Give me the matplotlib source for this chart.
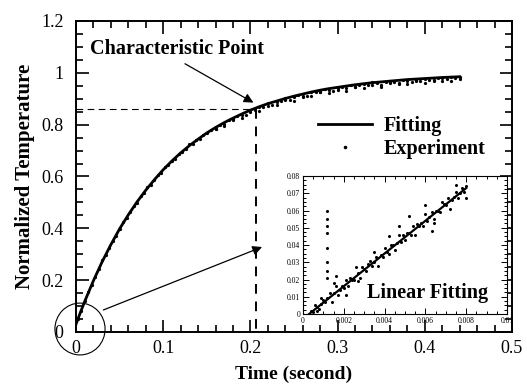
import matplotlib.pyplot as plt
from matplotlib.patches import Ellipse
from matplotlib.ticker import MultipleLocator, FormatStrFormatter

plt.rcParams['font.family'] = ['Liberation Serif', 'DejaVu Serif']

# fitted curve
fit_t = [0.0, 0.002, 0.005, 0.01, 0.02, 0.03, 0.04, 0.05, 0.06, 0.07, 0.08, 0.09, 0.10,
         0.11, 0.12, 0.13, 0.14, 0.15, 0.16, 0.17, 0.18, 0.19, 0.20, 0.21, 0.22, 0.23,
         0.24, 0.25, 0.26, 0.27, 0.28, 0.29, 0.30, 0.32, 0.34, 0.36, 0.38, 0.40, 0.42, 0.44]
fit_y = [0.03, 0.048, 0.075, 0.118, 0.198, 0.271, 0.337, 0.398, 0.452, 0.502, 0.547, 0.588, 0.626,
         0.660, 0.691, 0.719, 0.744, 0.768, 0.789, 0.808, 0.825, 0.841, 0.856, 0.869, 0.881, 0.891,
         0.901, 0.910, 0.918, 0.926, 0.933, 0.939, 0.944, 0.954, 0.962, 0.968, 0.974, 0.978, 0.982, 0.985]

# experiment points
exp_t1 = [0.002, 0.006, 0.010, 0.014, 0.018, 0.022, 0.026, 0.030, 0.034, 0.038, 0.042, 0.046,
          0.050, 0.054, 0.058, 0.062, 0.066, 0.070, 0.074, 0.078, 0.082, 0.086, 0.090, 0.094,
          0.098, 0.102, 0.106, 0.110, 0.114, 0.118, 0.122, 0.126, 0.130, 0.134, 0.138, 0.142, 0.146]
exp_y1 = [0.051, 0.082, 0.118, 0.155, 0.180, 0.214, 0.242, 0.276, 0.296, 0.324, 0.352, 0.370,
          0.399, 0.423, 0.440, 0.463, 0.487, 0.499, 0.523, 0.538, 0.559, 0.567, 0.588, 0.606,
          0.615, 0.637, 0.646, 0.661, 0.668, 0.687, 0.696, 0.705, 0.724, 0.727, 0.740, 0.746, 0.760]
exp_t2 = [0.150, 0.155, 0.160, 0.165, 0.170, 0.175, 0.180, 0.185, 0.190, 0.195, 0.200, 0.205,
          0.210, 0.215, 0.220, 0.225, 0.230, 0.235, 0.240, 0.245, 0.250, 0.255, 0.260, 0.265,
          0.270, 0.275, 0.280, 0.285, 0.290, 0.295, 0.300, 0.305, 0.310, 0.315, 0.320, 0.325,
          0.330, 0.335, 0.340, 0.345, 0.350, 0.355, 0.360, 0.365, 0.370, 0.375, 0.380, 0.385,
          0.390, 0.395, 0.400, 0.405, 0.410, 0.415, 0.420, 0.425, 0.430, 0.435, 0.440]
exp_y2 = [0.766, 0.781, 0.783, 0.799, 0.804, 0.819, 0.817, 0.833, 0.838, 0.839, 0.858, 0.857,
          0.868, 0.868, 0.884, 0.874, 0.889, 0.892, 0.902, 0.897, 0.907, 0.916, 0.912, 0.911,
          0.926, 0.926, 0.925, 0.938, 0.934, 0.929, 0.943, 0.944, 0.942, 0.953, 0.944, 0.952,
          0.956, 0.952, 0.963, 0.959, 0.953, 0.964, 0.968, 0.964, 0.962, 0.974, 0.970, 0.964,
          0.974, 0.970, 0.978, 0.974, 0.970, 0.980, 0.979, 0.975, 0.985, 0.979, 0.983]
exp_t3 = [0.16, 0.17, 0.18, 0.19, 0.20, 0.21, 0.22, 0.23, 0.24, 0.25, 0.26, 0.27, 0.28, 0.29,
          0.30, 0.31, 0.32, 0.33, 0.34, 0.35, 0.36, 0.37, 0.38, 0.39, 0.40, 0.41, 0.42, 0.43, 0.44]
exp_y3 = [0.782, 0.796, 0.821, 0.827, 0.850, 0.854, 0.872, 0.875, 0.894, 0.892, 0.908, 0.909,
          0.927, 0.923, 0.933, 0.930, 0.946, 0.943, 0.952, 0.947, 0.961, 0.957, 0.958, 0.967,
          0.961, 0.972, 0.969, 0.969, 0.975]

char_t = 0.206
char_y = 0.862

# inset: early part of the curve
lin_fit_t = [0.0003, 0.008]
lin_fit_y = [0.0, 0.073]
lin_t = [0.0004, 0.0005, 0.0006, 0.0007, 0.0008, 0.0009, 0.0010, 0.0011, 0.0012, 0.0013,
         0.0014, 0.0015, 0.0016, 0.0017, 0.0018, 0.0019, 0.0020, 0.0021, 0.0022, 0.0023,
         0.0024, 0.0025, 0.0026, 0.0027, 0.0028, 0.0029, 0.0030, 0.0031, 0.0032, 0.0033,
         0.0034, 0.0035, 0.0036, 0.0037, 0.0038, 0.0039, 0.0040, 0.0041, 0.0042, 0.0043,
         0.0044, 0.0045, 0.0046, 0.0047, 0.0048, 0.0049, 0.0050, 0.0051, 0.0052, 0.0053,
         0.0054, 0.0055, 0.0056, 0.0057, 0.0058, 0.0059, 0.0060, 0.0061, 0.0062, 0.0063,
         0.0064, 0.0065, 0.0066, 0.0067, 0.0068, 0.0069, 0.0070, 0.0071, 0.0072, 0.0073,
         0.0074, 0.0075, 0.0076, 0.0077, 0.0078, 0.0079, 0.0080]
lin_y = [0.002, 0.001, 0.005, 0.004, 0.003, 0.009, 0.008, 0.007, 0.009, 0.012,
         0.007, 0.012, 0.016, 0.011, 0.014, 0.016, 0.015, 0.020, 0.016, 0.021,
         0.020, 0.020, 0.027, 0.024, 0.021, 0.027, 0.026, 0.025, 0.029, 0.031,
         0.028, 0.030, 0.033, 0.028, 0.034, 0.033, 0.038, 0.036, 0.035, 0.040,
         0.040, 0.037, 0.041, 0.046, 0.042, 0.046, 0.043, 0.047, 0.047, 0.046,
         0.051, 0.046, 0.052, 0.051, 0.053, 0.051, 0.058, 0.054, 0.056, 0.059,
         0.055, 0.060, 0.060, 0.059, 0.065, 0.064, 0.063, 0.067, 0.061, 0.066,
         0.068, 0.071, 0.067, 0.070, 0.073, 0.071, 0.074]
extra_t = [0.0007, 0.0009, 0.0015, 0.0016, 0.0021, 0.0027, 0.0035, 0.0042, 0.0047,
           0.0052, 0.0063, 0.0064, 0.0060, 0.0075, 0.0080]
extra_y = [0.002, 0.006, 0.018, 0.022, 0.011, 0.019, 0.036, 0.045, 0.051,
           0.057, 0.048, 0.053, 0.063, 0.075, 0.067]
spike_t = [0.0012, 0.0012, 0.0012, 0.0012, 0.0012, 0.0012, 0.0012, 0.0012]
spike_y = [0.060, 0.055, 0.051, 0.047, 0.038, 0.030, 0.025, 0.021]

fig = plt.figure(figsize=(5.27, 3.86), dpi=100)
ax = fig.add_axes([0.1442, 0.1399, 0.8273, 0.8057])

fit_line, = ax.plot(fit_t, fit_y, color='black', lw=2.0, label='Fitting')
exp_pts, = ax.plot(exp_t1 + exp_t2 + exp_t3, exp_y1 + exp_y2 + exp_y3, ls='none',
                   marker='o', ms=1.3, color='black', label='Experiment')

ax.plot([0, char_t], [char_y, char_y], color='black', lw=0.8, ls=(0, (6, 4)))
ax.plot([char_t, char_t], [char_y, 0], color='black', lw=1.4, ls=(0, (5, 4)))

ax.set_xlim(0, 0.5)
ax.set_ylim(0, 1.2)
ax.xaxis.set_major_locator(MultipleLocator(0.1))
ax.xaxis.set_minor_locator(MultipleLocator(0.02))
ax.yaxis.set_major_locator(MultipleLocator(0.2))
ax.yaxis.set_minor_locator(MultipleLocator(0.05))
ax.xaxis.set_major_formatter(FormatStrFormatter('%g'))
ax.yaxis.set_major_formatter(FormatStrFormatter('%g'))
ax.tick_params(which='both', direction='in', top=True, right=True, width=1.2)
ax.tick_params(which='major', length=9, labelsize=13)
ax.tick_params(axis='y', which='major', pad=9)
ax.tick_params(axis='x', which='major', pad=6)
ax.tick_params(which='minor', length=5)
for s in ax.spines.values():
    s.set_linewidth(1.4)

ax.set_xlabel('Time (second)', fontsize=14, fontweight='bold', labelpad=6)
ax.set_ylabel('Normalized Temperature', fontsize=15, fontweight='bold', labelpad=4)

ax.text(0.016, 1.092, 'Characteristic Point', fontsize=14.5, fontweight='bold',
        ha='left', va='center')
ax.annotate('', xy=(0.2035, 0.885), xytext=(0.125, 1.035),
            arrowprops=dict(arrowstyle='-|>', color='black', lw=0.9,
                            mutation_scale=14, shrinkA=0, shrinkB=0))
ax.annotate('', xy=(0.2134, 0.328), xytext=(0.0314, 0.085),
            arrowprops=dict(arrowstyle='-|>', color='black', lw=0.9,
                            mutation_scale=14, shrinkA=0, shrinkB=0))
ax.add_patch(Ellipse((0.0046, 0.0115), 0.0575, 0.2, fill=False, color='black',
                     lw=0.8, clip_on=False))

ax.legend(handles=[fit_line, exp_pts], loc='upper left', bbox_to_anchor=(0.555, 0.695),
          frameon=False, handlelength=2.7, numpoints=1, markerscale=1.2,
          borderpad=0, borderaxespad=0, labelspacing=0.15, handletextpad=0.55,
          prop={'size': 14.5, 'weight': 'bold'})

ins = fig.add_axes([0.575, 0.1865, 0.387, 0.3575])
ins.plot(lin_fit_t, lin_fit_y, color='black', lw=1.6)
ins.plot(lin_t + extra_t + spike_t, lin_y + extra_y + spike_y, ls='none',
         marker='o', ms=1.2, color='black')
ins.set_xlim(0, 0.01)
ins.set_ylim(0, 0.08)
ins.xaxis.set_major_locator(MultipleLocator(0.002))
ins.xaxis.set_minor_locator(MultipleLocator(0.0005))
ins.yaxis.set_major_locator(MultipleLocator(0.01))
ins.yaxis.set_minor_locator(MultipleLocator(0.0025))
ins.xaxis.set_major_formatter(FormatStrFormatter('%g'))
ins.yaxis.set_major_formatter(FormatStrFormatter('%g'))
ins.tick_params(which='both', direction='in', top=True, right=True, width=0.7)
ins.tick_params(which='major', length=4, labelsize=5.5, pad=2)
ins.tick_params(which='minor', length=2)
for s in ins.spines.values():
    s.set_linewidth(0.8)
ins.text(0.0061, 0.0093, 'Linear Fitting', fontsize=14.5, fontweight='bold', ha='center')

fig.savefig('out.png', dpi=100)
